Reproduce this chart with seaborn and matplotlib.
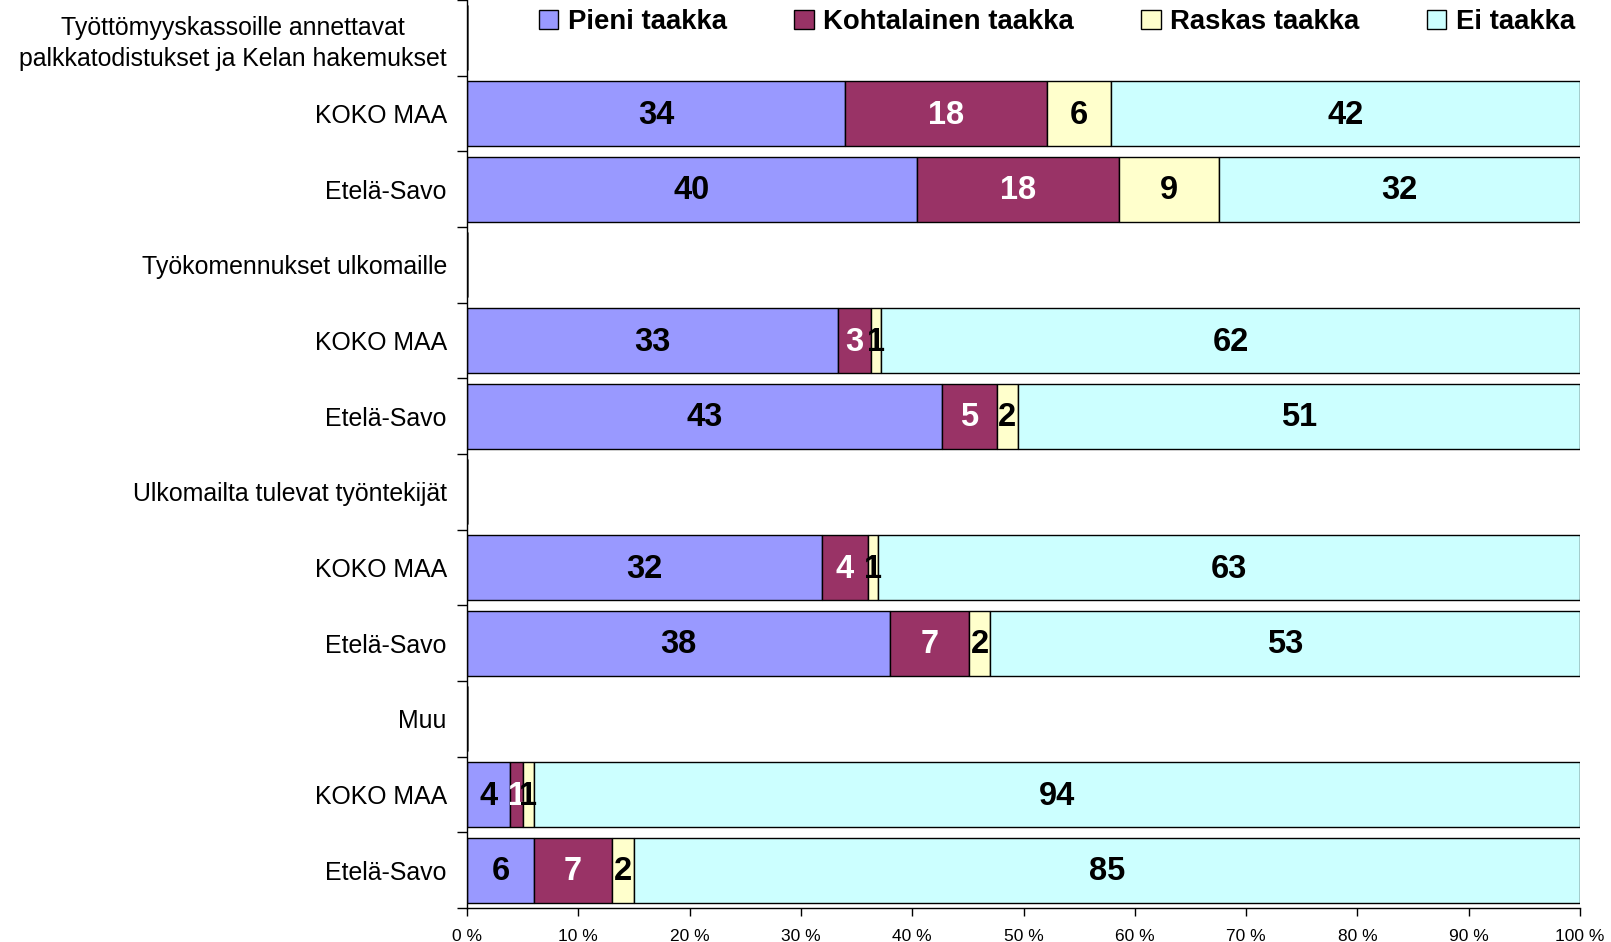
"""Kuormitus: pinotut vaakapalkit (100 %)."""
import numpy as np
import matplotlib

matplotlib.use("Agg")
import matplotlib.pyplot as plt
import seaborn as sns
from matplotlib.patches import Patch

sns.set_theme(style="white")
plt.rcParams["font.family"] = ["Liberation Sans", "DejaVu Sans"]
plt.rcParams["text.color"] = "black"
plt.rcParams["xtick.color"] = "black"
plt.rcParams["ytick.color"] = "black"

rows = [
    "Työttömyyskassoille annettavat\npalkkatodistukset ja Kelan hakemukset",
    "KOKO MAA", "Etelä-Savo",
    "Työkomennukset ulkomaille",
    "KOKO MAA", "Etelä-Savo",
    "Ulkomailta tulevat työntekijät",
    "KOKO MAA", "Etelä-Savo",
    "Muu",
    "KOKO MAA", "Etelä-Savo",
]
series = ["Pieni taakka", "Kohtalainen taakka", "Raskas taakka", "Ei taakka"]
nan = np.nan
pieni = [nan, 34.0, 40.4, nan, 33.3, 42.7, nan, 31.9, 38.0, nan, 3.9, 6.0]
kohtalainen = [nan, 18.1, 18.2, nan, 3.0, 4.9, nan, 4.1, 7.1, nan, 1.1, 7.0]
raskas = [nan, 5.8, 9.0, nan, 0.9, 1.9, nan, 0.9, 1.9, nan, 1.0, 2.0]
ei = [nan, 42.1, 32.4, nan, 62.8, 50.5, nan, 63.1, 53.0, nan, 94.0, 85.0]
pieni_lbl = [None, "34", "40", None, "33", "43", None, "32", "38", None, "4", "6"]
kohtalainen_lbl = [None, "18", "18", None, "3", "5", None, "4", "7", None, "1", "7"]
raskas_lbl = [None, "6", "9", None, "1", "2", None, "1", "2", None, "1", "2"]
ei_lbl = [None, "42", "32", None, "62", "51", None, "63", "53", None, "94", "85"]

colors = ["#9999FF", "#993366", "#FFFFCC", "#CCFFFF"]
text_colors = ["black", "white", "black", "black"]

fig = plt.figure(figsize=(16.11, 9.42), dpi=100)
ax = fig.add_axes([467 / 1611, 1 - 908 / 942, (1580 - 467) / 1611, 908 / 942])

y = np.arange(len(rows))
left = np.zeros(len(rows))
for vals, lbls, col, tcol in zip(
    [pieni, kohtalainen, raskas, ei],
    [pieni_lbl, kohtalainen_lbl, raskas_lbl, ei_lbl],
    colors, text_colors,
):
    v = np.array(vals, dtype=float)
    ax.barh(y, np.nan_to_num(v), left=left, height=0.86, color=col,
            edgecolor="black", linewidth=1.0)
    for i, (val, lab) in enumerate(zip(v, lbls)):
        if lab is not None:
            ax.text(left[i] + val / 2, i + 0.02, lab, ha="center", va="center",
                    fontsize=23.5, fontweight="bold", color=tcol)
    left = left + np.nan_to_num(v)

ax.set_xlim(0, 100)
ax.set_ylim(len(rows) - 0.5, -0.5)
ax.set_xticks(np.arange(0, 101, 10))
ax.set_xticklabels([f"{t} %" for t in range(0, 101, 10)], fontsize=12.5)
ax.set_yticks(np.arange(-0.5, len(rows), 1.0))
ax.set_yticklabels([])
ax.set_yticks(y, minor=True)
ax.set_yticklabels(rows, minor=True, fontsize=17.9, linespacing=1.35)
ax.tick_params(axis="y", which="major", length=7, width=1, left=True)
ax.tick_params(axis="y", which="minor", length=0, pad=14.5)
ax.tick_params(axis="x", length=6, width=1, bottom=True, pad=9)
for lab in ax.get_yticklabels(minor=True):
    lab.set_multialignment("center")

for side in ["top", "right"]:
    ax.spines[side].set_visible(False)
for side in ["left", "bottom"]:
    ax.spines[side].set_color("black")
    ax.spines[side].set_linewidth(1.0)

handles = [Patch(facecolor=c, edgecolor="black", linewidth=1.0) for c in colors]
fig.legend(handles, series, loc="center", bbox_to_anchor=(1057 / 1611, 1 - 22 / 942),
           ncol=4, frameon=False, prop={"size": 19.8, "weight": "bold"},
           handlelength=0.7, handleheight=0.7, handletextpad=0.35, columnspacing=2.45)

fig.savefig("out.png", dpi=100)
